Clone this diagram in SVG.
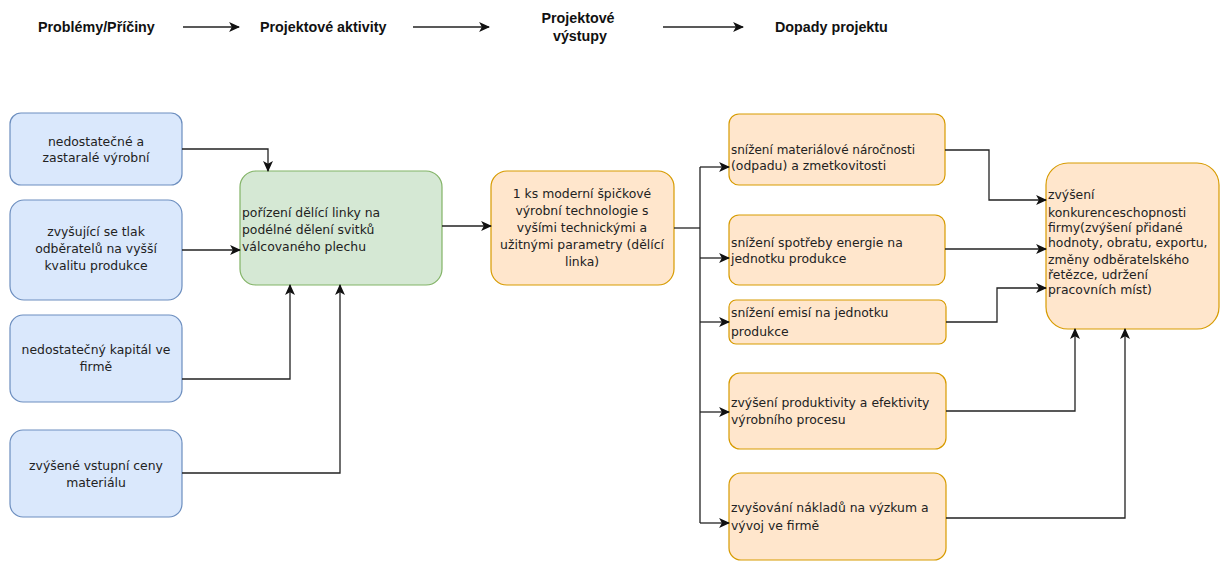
<svg xmlns="http://www.w3.org/2000/svg" width="1223" height="561" viewBox="0 0 1223 561">
<defs>
<marker id="ah" viewBox="0 0 10 10" refX="9" refY="5" markerWidth="11" markerHeight="11" markerUnits="userSpaceOnUse" orient="auto">
<path d="M0,0.5 L10,5 L0,9.5 L2.5,5 Z" fill="#111"/>
</marker>
<style>
.hd{font-family:"Liberation Sans",Arial,sans-serif;font-weight:bold;font-size:14.3px;fill:#111}
.t{font-family:"DejaVu Sans",Verdana,sans-serif;font-size:12.4px;fill:#222}
.c{text-anchor:middle}
.blue{fill:#dae8fc;stroke:#6c8ebf;stroke-width:1.2}
.green{fill:#d5e8d4;stroke:#82b366;stroke-width:1.2}
.orange{fill:#ffe6cc;stroke:#d79b00;stroke-width:1.2}
.ln{fill:none;stroke:#222;stroke-width:1.3;marker-end:url(#ah)}
.pl{fill:none;stroke:#222;stroke-width:1.3}
</style>
</defs>
<rect width="1223" height="561" fill="#fff"/>
<g id="header">
<text class="hd" x="38" y="32">Problémy/Příčiny</text>
<text class="hd" x="260" y="32">Projektové aktivity</text>
<text class="hd c" x="578" y="23">Projektové</text>
<text class="hd c" x="580" y="41">výstupy</text>
<text class="hd" x="775" y="32">Dopady projektu</text>
<path class="ln" d="M183,27 H239"/>
<path class="ln" d="M413,27 H489"/>
<path class="ln" d="M663,27 H743"/>
</g>
<g id="n1"><rect class="blue" x="10" y="113" width="172" height="72" rx="11"/>
<text class="t c" x="96" y="146">nedostatečné a</text><text class="t c" x="96" y="162">zastaralé výrobní</text></g>
<g id="n2"><rect class="blue" x="10" y="200" width="172" height="100" rx="14"/>
<text class="t c" x="96" y="236">zvyšující se tlak</text><text class="t c" x="96" y="253">odběratelů na vyšší</text><text class="t c" x="96" y="270">kvalitu produkce</text></g>
<g id="n3"><rect class="blue" x="10" y="315" width="172" height="87" rx="13"/>
<text class="t c" x="96" y="354">nedostatečný kapitál ve</text><text class="t c" x="96" y="371">firmě</text></g>
<g id="n4"><rect class="blue" x="10" y="430" width="172" height="87" rx="13"/>
<text class="t c" x="96" y="470">zvýšené vstupní ceny</text><text class="t c" x="96" y="487">materiálu</text></g>
<g id="n5"><rect class="green" x="240" y="171" width="202" height="114" rx="16"/>
<text class="t" x="242" y="217">pořízení dělící linky na</text><text class="t" x="242" y="234">podélné dělení svitků</text><text class="t" x="242" y="251">válcovaného plechu</text></g>
<g id="n6"><rect class="orange" x="491" y="171" width="183" height="114" rx="16"/>
<text class="t c" x="582" y="198">1 ks moderní špičkové</text><text class="t c" x="582" y="215">výrobní technologie s</text><text class="t c" x="582" y="232">vyšími technickými a</text><text class="t c" x="582" y="249">užitnými parametry (dělící</text><text class="t c" x="582" y="266">linka)</text></g>
<g id="n7"><rect class="orange" x="729" y="114" width="216" height="71" rx="10"/>
<text class="t" x="731" y="154" style="font-size:12px">snížení materiálové náročnosti</text><text class="t" x="731" y="170">(odpadu) a zmetkovitosti</text></g>
<g id="n8"><rect class="orange" x="729" y="215" width="216" height="70" rx="10"/>
<text class="t" x="731" y="247">snížení spotřeby energie na</text><text class="t" x="731" y="263">jednotku produkce</text></g>
<g id="n9"><rect class="orange" x="729" y="300" width="217" height="44" rx="7"/>
<text class="t" x="731" y="317">snížení emisí na jednotku</text><text class="t" x="731" y="336">produkce</text></g>
<g id="n10"><rect class="orange" x="729" y="373" width="217" height="76" rx="11"/>
<text class="t" x="731" y="407">zvýšení produktivity a efektivity</text><text class="t" x="731" y="424">výrobního procesu</text></g>
<g id="n11"><rect class="orange" x="729" y="473" width="217" height="87" rx="12"/>
<text class="t" x="731" y="512">zvyšování nákladů na výzkum a</text><text class="t" x="731" y="530">vývoj ve firmě</text></g>
<g id="n12"><rect class="orange" x="1046" y="163" width="173" height="166" rx="22"/>
<text class="t" x="1048" y="199">zvýšení</text><text class="t" x="1048" y="217">konkurenceschopnosti</text><text class="t" x="1048" y="232">firmy(zvýšení přidané</text><text class="t" x="1048" y="247">hodnoty, obratu, exportu,</text><text class="t" x="1048" y="264">změny odběratelského</text><text class="t" x="1048" y="279">řetězce, udržení</text><text class="t" x="1048" y="294">pracovních míst)</text></g>
<g id="connectors">
<path class="ln" d="M182,149 H268 V171"/>
<path class="ln" d="M182,250 H240"/>
<path class="ln" d="M182,379 H290 V285"/>
<path class="ln" d="M182,473 H340 V285"/>
<path class="ln" d="M442,226 H491"/>
<path class="pl" d="M674,228 H700"/>
<path class="pl" d="M700,167 V523"/>
<path class="ln" d="M700,167 H729"/>
<path class="ln" d="M700,258 H729"/>
<path class="ln" d="M700,322 H729"/>
<path class="ln" d="M700,412 H729"/>
<path class="ln" d="M700,523 H729"/>
<path class="ln" d="M945,150 H989 V200 H1046"/>
<path class="ln" d="M945,249 H1046"/>
<path class="ln" d="M946,322 H997 V288 H1046"/>
<path class="ln" d="M946,411 H1075 V329"/>
<path class="ln" d="M946,518 H1125 V329"/>
</g>
</svg>
